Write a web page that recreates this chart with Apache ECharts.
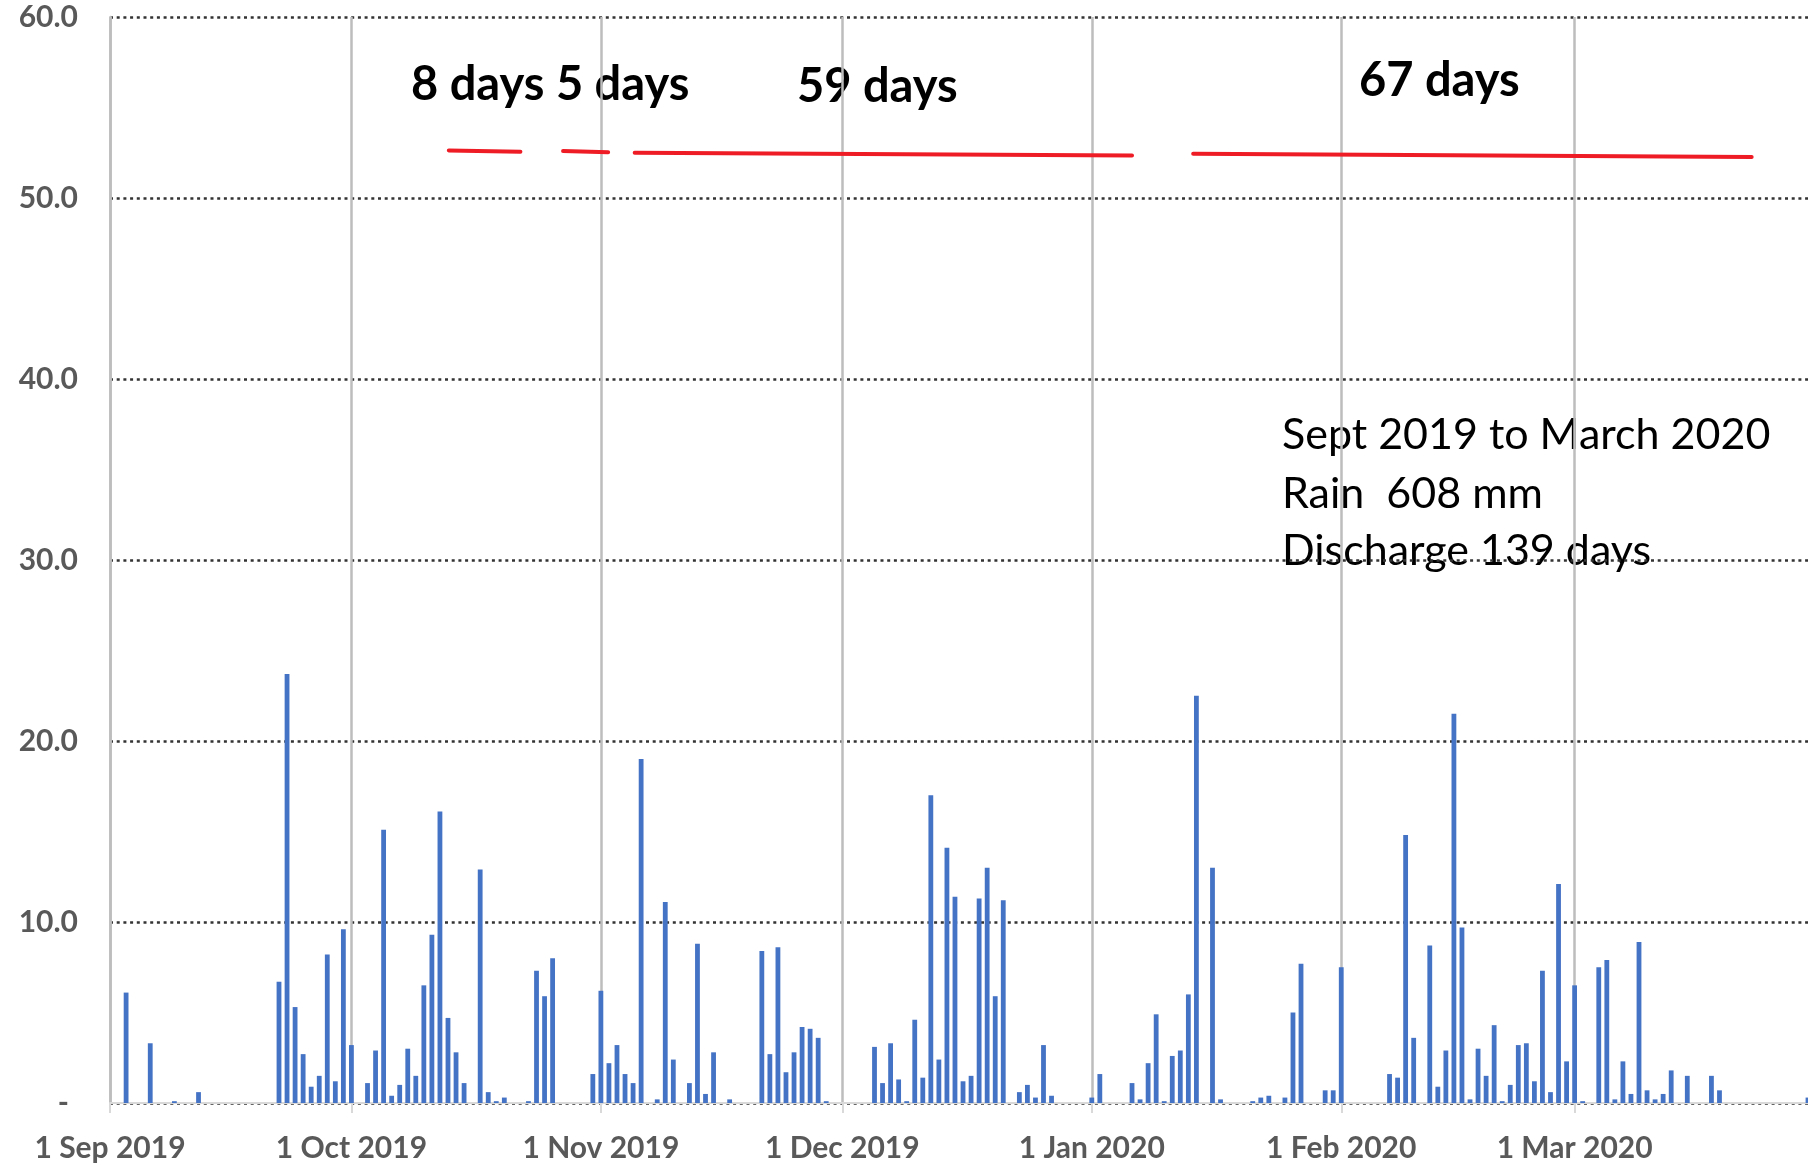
<!DOCTYPE html>
<html>
<head>
<meta charset="utf-8">
<title>Rain Sept 2019 - March 2020</title>
<script src="https://cdn.jsdelivr.net/npm/echarts/dist/echarts.min.js"></script>
<style>
	html, body { margin: 0; padding: 0; background: #fff; }
	#chart { width: 1808px; height: 1165px; }
</style>
</head>
<body>
<div id="chart"></div>
<script>
// daily rain (mm), one array per month, index 0 = day 1
var sep2019 = [0, 0, 6.1, 0, 0, 3.3, 0, 0, 0.1, 0, 0, 0.6, 0, 0, 0, 0, 0, 0, 0, 0,
	0, 6.7, 23.7, 5.3, 2.7, 0.9, 1.5, 8.2, 1.2, 9.6];
var oct2019 = [3.2, 0, 1.1, 2.9, 15.1, 0.4, 1.0, 3.0, 1.5, 6.5, 9.3, 16.1, 4.7, 2.8, 1.1, 0, 12.9, 0.6, 0.1, 0.3,
	0, 0, 0.1, 7.3, 5.9, 8.0, 0, 0, 0, 0, 1.6];
var nov2019 = [6.2, 2.2, 3.2, 1.6, 1.1, 19.0, 0, 0.2, 11.1, 2.4, 0, 1.1, 8.8, 0.5, 2.8, 0, 0.2, 0, 0, 0,
	8.4, 2.7, 8.6, 1.7, 2.8, 4.2, 4.1, 3.6, 0.1, 0];
var dec2019 = [0, 0, 0, 0, 3.1, 1.1, 3.3, 1.3, 0.1, 4.6, 1.4, 17.0, 2.4, 14.1, 11.4, 1.2, 1.5, 11.3, 13.0, 5.9,
	11.2, 0, 0.6, 1.0, 0.3, 3.2, 0.4, 0, 0, 0, 0];
var jan2020 = [0.3, 1.6, 0, 0, 0, 1.1, 0.2, 2.2, 4.9, 0.1, 2.6, 2.9, 6.0, 22.5, 0, 13.0, 0.2, 0, 0, 0,
	0.1, 0.3, 0.4, 0, 0.3, 5.0, 7.7, 0, 0, 0.7, 0.7];
var feb2020 = [7.5, 0, 0, 0, 0, 0, 1.6, 1.4, 14.8, 3.6, 0, 8.7, 0.9, 2.9, 21.5, 9.7, 0.2, 3.0, 1.5, 4.3,
	0.1, 1.0, 3.2, 3.3, 1.2, 7.3, 0.6, 12.1, 2.3];
var mar2020 = [6.5, 0.1, 0, 7.5, 7.9, 0.2, 2.3, 0.5, 8.9, 0.7, 0.2, 0.5, 1.8, 0, 1.5, 0, 0, 1.5, 0.7, 0,
	0, 0, 0, 0, 0, 0, 0, 0, 0, 0.3];

var monthNames = ['Sep', 'Oct', 'Nov', 'Dec', 'Jan', 'Feb', 'Mar'];
var monthYears = [2019, 2019, 2019, 2019, 2020, 2020, 2020];
var monthData = [sep2019, oct2019, nov2019, dec2019, jan2020, feb2020, mar2020];

// y axis ticks
var yTicks = [0, 10, 20, 30, 40, 50, 60];

// discharge periods: [start day index, end day index, start level, end level]
var dischargeSegments = [
	[42.1, 51.0, 52.63, 52.56],
	[56.3, 61.9, 52.60, 52.53],
	[65.2, 127.0, 52.50, 52.35],
	[134.6, 204.0, 52.44, 52.27]
];
var dischargeLabels = ['8 days 5 days', '59 days', '67 days'];
var noteLines = ['Sept 2019 to March 2020', 'Rain  608 mm', 'Discharge 139 days'];

// categories + values
var categories = [];
var rain = [];
for (var m = 0; m < monthData.length; m++) {
	for (var d = 0; d < monthData[m].length; d++) {
		categories.push((d + 1) + ' ' + monthNames[m] + ' ' + monthYears[m]);
		rain.push(monthData[m][d]);
	}
}

function isMonthStart(index, value) {
	return value.indexOf('1 ') === 0;
}

var chart = echarts.init(document.getElementById('chart'));

var series = [{
	name: 'Rain',
	type: 'bar',
	data: rain,
	barWidth: 4.8,
	itemStyle: { color: '#4472C4' },
	silent: true
}];

dischargeSegments.forEach(function (s, i) {
	series.push({
		name: 'Discharge ' + (i + 1),
		type: 'line',
		xAxisIndex: 1,
		symbol: 'none',
		silent: true,
		lineStyle: { color: '#EE1C25', width: 4, cap: 'round' },
		data: [[s[0], s[2]], [s[1], s[3]]]
	});
});

var boldFont = 'bold 47px Lato';
var noteFont = '43px Lato';

var option = {
	animation: false,
	grid: { left: 110, right: 0, top: 17, bottom: 62 },
	xAxis: [{
		type: 'category',
		data: categories,
		boundaryGap: false,
		axisLine: { lineStyle: { color: '#d9d9d9', width: 2 } },
		axisTick: { show: true, interval: isMonthStart, length: 10, lineStyle: { color: '#d9d9d9', width: 2 } },
		axisLabel: {
			interval: isMonthStart,
			color: '#595959',
			fontFamily: 'Lato',
			fontWeight: 'bold',
			fontSize: 30,
			margin: 30
		},
		splitLine: { show: true, interval: isMonthStart, lineStyle: { color: '#bdbdbd', width: 2.5 } }
	}, {
		type: 'value',
		min: 0,
		max: categories.length - 1,
		show: false
	}],
	yAxis: {
		type: 'value',
		min: yTicks[0],
		max: yTicks[yTicks.length - 1],
		interval: yTicks[1] - yTicks[0],
		axisLine: { show: true, lineStyle: { color: '#bdbdbd', width: 2.5 } },
		axisTick: { show: false },
		axisLabel: {
			color: '#595959',
			fontFamily: 'Lato',
			fontWeight: 'bold',
			fontSize: 30,
			margin: 32,
			formatter: function (v) {
				return v === 0 ? '{d|-}' : v.toFixed(1);
			},
			rich: { d: { fontFamily: 'Lato', fontWeight: 'bold', fontSize: 30, color: '#595959', padding: [0, 9, 0, 0] } }
		},
		splitLine: { lineStyle: { type: [3, 3.7], color: '#333333', width: 2.5 } }
	},
	series: series,
	graphic: [
		{ type: 'text', left: 411, top: 61, style: { text: dischargeLabels[0], font: boldFont, fill: '#000' } },
		{ type: 'text', left: 797, top: 63, style: { text: dischargeLabels[1], font: boldFont, fill: '#000' } },
		{ type: 'text', left: 1359, top: 57, style: { text: dischargeLabels[2], font: boldFont, fill: '#000' } },
		{ type: 'text', left: 1282, top: 414, style: { text: noteLines[0], font: noteFont, fill: '#000' } },
		{ type: 'text', left: 1282, top: 473, style: { text: noteLines[1], font: noteFont, fill: '#000' } },
		{ type: 'text', left: 1282, top: 530, style: { text: noteLines[2], font: noteFont, fill: '#000' } }
	]
};

chart.setOption(option);
</script>
</body>
</html>
